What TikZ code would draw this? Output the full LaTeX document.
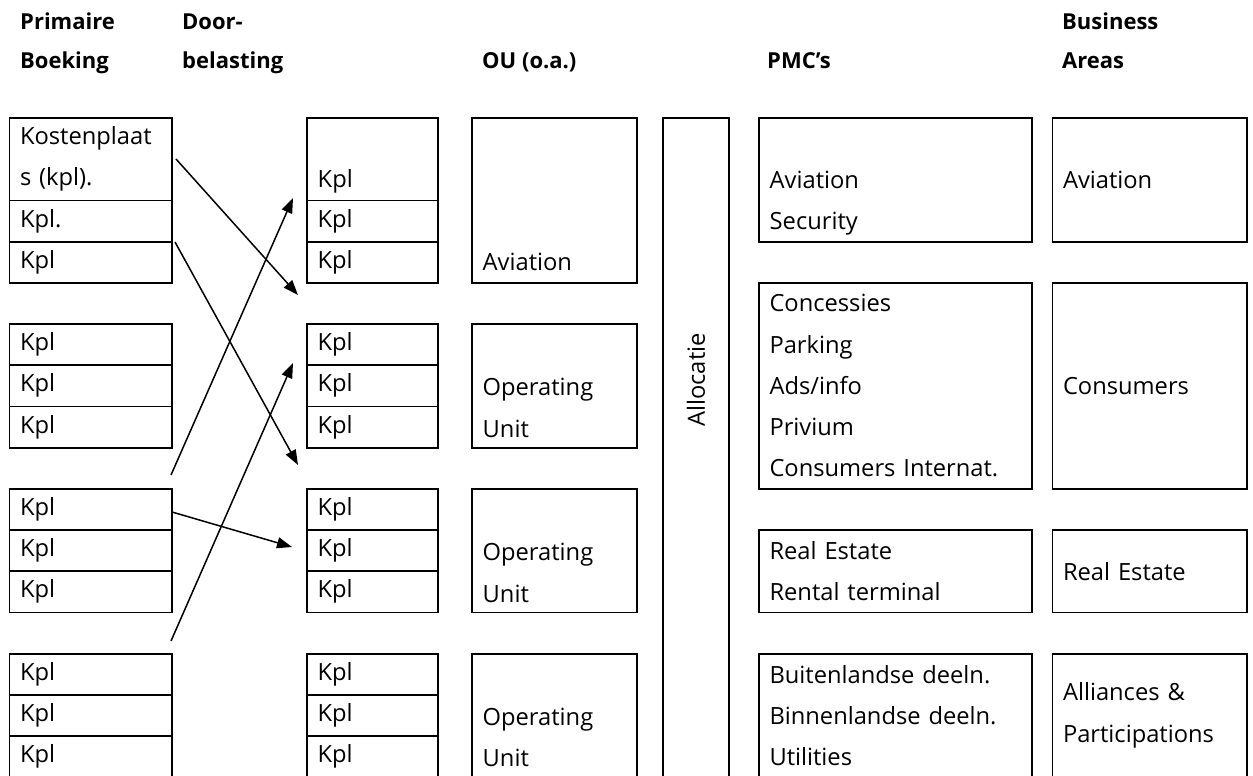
\documentclass[tikz,border=0pt]{standalone}
\usepackage{fontspec}
\setmainfont{Open Sans}
\usetikzlibrary{arrows.meta,positioning}
\tikzset{
  >={Triangle[length=15pt,width=11pt]},
  % vakken
  vak/.style={draw,line width=1.8pt,anchor=north west,inner xsep=10.5pt,
              inner ysep=0pt,outer sep=0pt,minimum height=41.2pt,align=left},
  kpl/.style={vak,minimum width=162.5pt,text width=141.5pt},
  dkpl/.style={vak,minimum width=131pt,text width=110pt},
  pmc/.style={vak,minimum width=273pt,text width=252pt},
  ba/.style={vak,minimum width=194.5pt,text width=173.5pt},
  ou/.style={vak,minimum width=165pt,minimum height=123.6pt},
  tekst/.style={anchor=west,inner xsep=10.5pt,inner ysep=0pt,align=left},
  kop/.style={anchor=base west,inner sep=0pt,align=left,
              font=\fontsize{22}{39.5}\selectfont\bfseries},
  % pijlen
  pijl/.style={->,line width=1.5pt},
}
\begin{document}
\begin{tikzpicture}[x=1pt,y=-1pt,font=\fontsize{23.7}{41.2}\selectfont]
\useasboundingbox (0,0) rectangle (1253,776);
  % koppen (basislijn van de onderste regel)
  \node[kop] (h1) at (20,68.5) {Primaire\\Boeking};
  \node[kop] (h2) at (182,68.5) {Door-\\belasting};
  \node[kop] (h3) at (482,68.5) {OU (o.a.)};
  \node[kop] (h4) at (767,68.5) {PMC's};
  \node[kop] (h5) at (1062,68.5) {Business\\Areas};
  % primaire boeking en doorbelasting
  \node[kpl,minimum height=82.4pt] (l10) at (9.5,118) {Kostenplaat\\s (kpl).};
  \node[kpl] (l11) at (9.5,200.4) {Kpl.};
  \node[kpl] (l12) at (9.5,241.6) {Kpl};
  \node[dkpl,minimum height=82.4pt] (d10) at (307,118) {};
  \node[tekst] (d10t) at (307,181) {Kpl};
  \node[dkpl] (d11) at (307,200.4) {Kpl};
  \node[dkpl] (d12) at (307,241.6) {Kpl};
  \foreach \g/\y in {2/324,3/488.8,4/653.6}{
    \foreach \r in {0,1,2}{
      \node[kpl] (l\g\r) at (9.5,\y+41.2*\r) {Kpl};
      \node[dkpl] (d\g\r) at (307,\y+41.2*\r) {Kpl};
    }
  }
  % OU
  \node[ou,minimum height=164.8pt] (ou1) at (472,118) {};
  \node[ou] (ou2) at (472,324) {};
  \node[ou] (ou3) at (472,488.8) {};
  \node[ou] (ou4) at (472,653.6) {};
  \node[tekst] (ou1t) at (472,262) {Aviation};
  \node[tekst] (ou2t) at (472,408) {Operating\\Unit};
  \node[tekst] (ou3t) at (472,573) {Operating\\Unit};
  \node[tekst] (ou4t) at (472,737.5) {Operating\\Unit};
  % allocatie
  \node[vak,minimum width=66pt,minimum height=680pt] (alloc) at (663,118) {};
  \node[rotate=90,inner sep=0pt] (alloct) at (696,380) {Allocatie};
  % PMC's
  \node[pmc,minimum height=123.6pt] (p1) at (759,118) {};
  \node[tekst] (p1t) at (759,203) {Aviation\\Security};
  \node[pmc,minimum height=206pt] (p2) at (759,282.8)
    {Concessies\\Parking\\Ads/info\\Privium\\Consumers Internat.};
  \node[pmc,minimum height=82.4pt] (p3) at (759,530) {Real Estate\\Rental terminal};
  \node[pmc,minimum height=123.6pt] (p4) at (759,653.6)
    {Buitenlandse deeln.\\Binnenlandse deeln.\\Utilities};
  % business areas
  \node[ba,minimum height=123.6pt] (b1) at (1052.5,118) {Aviation};
  \node[ba,minimum height=206pt] (b2) at (1052.5,282.8) {Consumers};
  \node[ba,minimum height=82.4pt] (b3) at (1052.5,530) {Real Estate};
  \node[ba,minimum height=123.6pt] (b4) at (1052.5,653.6) {Alliances \&\\Participations};
  % doorbelasting pijlen
  \coordinate (s1) at (176,159);
  \coordinate (e1) at (298,295);
  \coordinate (s2) at (175,242);
  \coordinate (e2) at (298,465);
  \coordinate (s3) at (171,475);
  \coordinate (e3) at (293,198);
  \coordinate (s4) at (172,512);
  \coordinate (e4) at (292,547);
  \coordinate (s5) at (171,641);
  \coordinate (e5) at (293,363);
  \foreach \i in {1,...,5}
    \draw[pijl] (s\i) -- (e\i);
\end{tikzpicture}
\end{document}
